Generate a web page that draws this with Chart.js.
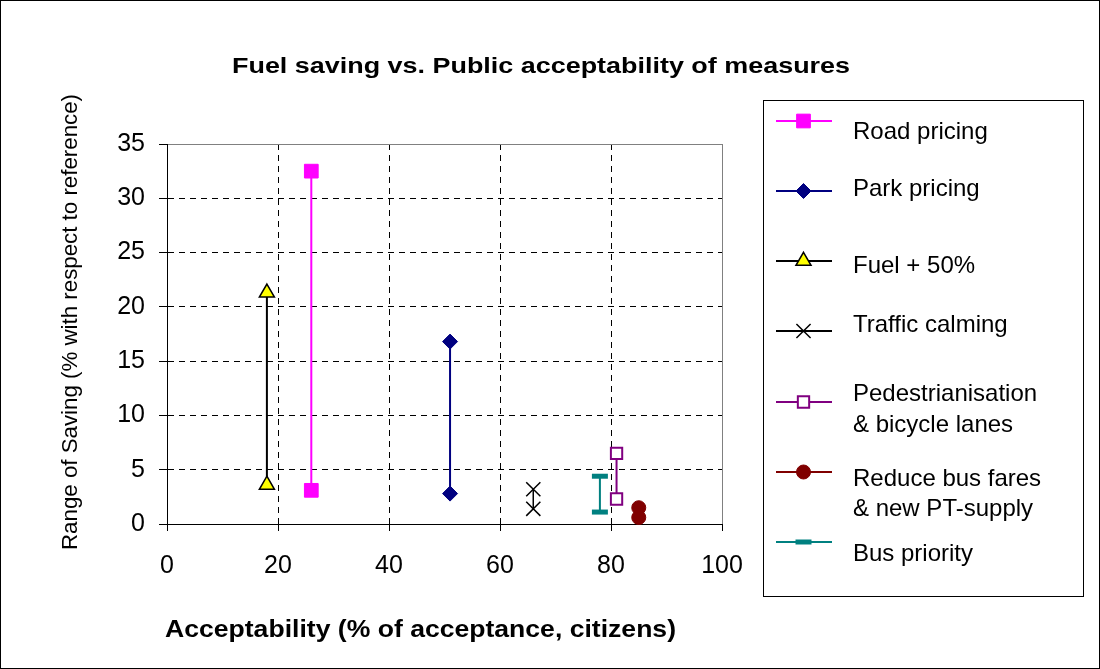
<!DOCTYPE html>
<html>
<head>
<meta charset="utf-8">
<script src="https://cdn.jsdelivr.net/npm/chart.js@4.4.1/dist/chart.umd.min.js"></script>
<style>
  html, body { margin: 0; padding: 0; background: #fff; }
</style>
</head>
<body>
<canvas id="chart" width="1100" height="669"></canvas>
<script>
// data
const measures = [
  ['Road pricing'],
  ['Park pricing'],
  ['Fuel + 50%'],
  ['Traffic calming'],
  ['Pedestrianisation', '& bicycle lanes'],
  ['Reduce bus fares', '& new PT-supply'],
  ['Bus priority']
];
const acceptability = [26, 51, 18, 66, 81, 85, 78];
const savingHigh = [32.5, 16.8, 21.3, 3.2, 6.5, 1.5, 4.4];
const savingLow = [3.1, 2.8, 3.6, 1.4, 2.3, 0.6, 1.1];
const xTicks = [0, 20, 40, 60, 80, 100];
const yTicks = [0, 5, 10, 15, 20, 25, 30, 35];

const chartTitle = 'Fuel saving vs. Public acceptability of measures';
const xTitle = 'Acceptability (% of acceptance, citizens)';
const yTitle = 'Range of Saving (% with respect to reference)';

const FONT = '"Liberation Sans", Arial, sans-serif';

// marker / line look for each measure
const looks = [
  { line: '#FF00FF', fill: '#FF00FF', edge: '#FF00FF', style: 'rect', r: 9.7, bw: 1, lw: 2 },
  { line: '#000080', fill: '#000080', edge: '#000080', style: 'rectRot', r: 7.5, bw: 1, lw: 2 },
  { line: '#000000', fill: '#FFFF00', edge: '#000000', style: 'triangle', r: 8.7, bw: 1.5, lw: 2 },
  { line: '#000000', fill: '#000000', edge: '#000000', style: 'crossRot', r: 10, bw: 1.5, lw: 1 },
  { line: '#800080', fill: '#FFFFFF', edge: '#800080', style: 'rect', r: 8, bw: 2, lw: 2 },
  { line: '#800000', fill: '#800000', edge: '#800000', style: 'circle', r: 7, bw: 1, lw: 2 },
  { line: '#008080', fill: '#008080', edge: '#008080', style: 'line', r: 8, bw: 5, lw: 2 }
];

const datasets = measures.map((lines, i) => {
  const lk = looks[i];
  return {
    label: lines.join(' '),
    data: [
      { x: acceptability[i], y: savingHigh[i] },
      { x: acceptability[i], y: savingLow[i] }
    ],
    showLine: true,
    borderColor: lk.line,
    borderWidth: lk.lw,
    pointStyle: lk.style,
    pointRadius: lk.r,
    pointHoverRadius: lk.r,
    pointBackgroundColor: lk.fill,
    pointBorderColor: lk.edge,
    pointBorderWidth: lk.bw,
    clip: false
  };
});

// text stretched to the width it takes in the picture
function fitText(ctx, text, font, cx, baseline, width) {
  ctx.font = font;
  const w = ctx.measureText(text).width;
  ctx.save();
  ctx.translate(cx, baseline);
  ctx.scale(width / w, 1);
  ctx.textAlign = 'center';
  ctx.textBaseline = 'alphabetic';
  ctx.fillStyle = '#000';
  ctx.fillText(text, 0, 0);
  ctx.restore();
}

const decor = {
  id: 'decor',
  beforeDraw(chart) {
    const ctx = chart.ctx;
    ctx.save();
    ctx.fillStyle = '#fff';
    ctx.fillRect(0, 0, chart.width, chart.height);
    ctx.restore();
  },
  afterDraw(chart) {
    const ctx = chart.ctx;
    ctx.save();
    ctx.strokeStyle = '#000';
    ctx.lineWidth = 1;
    ctx.strokeRect(0.5, 0.5, chart.width - 1, chart.height - 1);

    fitText(ctx, chartTitle, 'bold 22px ' + FONT, 541, 73, 618);
    fitText(ctx, xTitle, 'bold 24px ' + FONT, 420.5, 637, 511);
    ctx.save();
    ctx.translate(77, 322);
    ctx.rotate(-Math.PI / 2);
    fitText(ctx, yTitle, '22px ' + FONT, 0, 0, 456);
    ctx.restore();

    // legend box
    ctx.strokeStyle = '#000';
    ctx.lineWidth = 1;
    ctx.strokeRect(763.5, 100.5, 320, 496);
    const symY = [121, 191, 261, 331, 402, 472, 542];
    const textY = [[139], [196], [273], [332], [401, 432], [486, 516], [561]];
    chart.data.datasets.forEach((ds, i) => {
      ctx.strokeStyle = ds.borderColor;
      ctx.lineWidth = 2;
      ctx.beginPath();
      ctx.moveTo(776, symY[i]);
      ctx.lineTo(832, symY[i]);
      ctx.stroke();
      ctx.fillStyle = ds.pointBackgroundColor;
      ctx.strokeStyle = ds.pointBorderColor;
      ctx.lineWidth = ds.pointBorderWidth;
      Chart.helpers.drawPoint(ctx, {
        pointStyle: ds.pointStyle,
        radius: ds.pointRadius,
        borderWidth: ds.pointBorderWidth,
        rotation: 0
      }, 803.5, symY[i]);
      ctx.fillStyle = '#000';
      ctx.font = '24px ' + FONT;
      ctx.textAlign = 'left';
      ctx.textBaseline = 'alphabetic';
      measures[i].forEach((t, k) => ctx.fillText(t, 853, textY[i][k]));
    });
    ctx.restore();
  }
};

const edgeDash = (edges) => (c) =>
  (c.tick && !edges.includes(c.tick.value)) ? [6, 5] : [];

new Chart(document.getElementById('chart'), {
  type: 'scatter',
  data: { datasets },
  options: {
    responsive: false,
    animation: false,
    events: [],
    layout: { padding: { left: 40, right: 378, top: 144, bottom: 0 } },
    plugins: {
      legend: { display: false },
      tooltip: { enabled: false },
      title: { display: false }
    },
    scales: {
      x: {
        type: 'linear',
        min: 0,
        max: 100,
        afterBuildTicks: (s) => { s.ticks = xTicks.map(v => ({ value: v })); },
        afterFit: (s) => { s.height = 145; },
        ticks: { font: { family: FONT, size: 25 }, color: '#000', padding: 20 },
        grid: {
          color: (c) => (c.tick && c.tick.value === 100) ? '#808080' : '#000',
          lineWidth: 1,
          tickLength: 7,
          tickColor: '#000'
        },
        border: { color: '#000', width: 1, dash: edgeDash([0, 100]) }
      },
      y: {
        type: 'linear',
        min: 0,
        max: 35,
        afterBuildTicks: (s) => { s.ticks = yTicks.map(v => ({ value: v })); },
        afterFit: (s) => { s.width = 127; },
        ticks: { font: { family: FONT, size: 25 }, color: '#000', padding: 14 },
        grid: {
          color: (c) => (c.tick && c.tick.value === 35) ? '#808080' : '#000',
          lineWidth: 1,
          tickLength: 8,
          tickColor: '#000'
        },
        border: { color: '#000', width: 1, dash: edgeDash([0, 35]) }
      }
    }
  },
  plugins: [decor]
});
</script>
</body>
</html>
